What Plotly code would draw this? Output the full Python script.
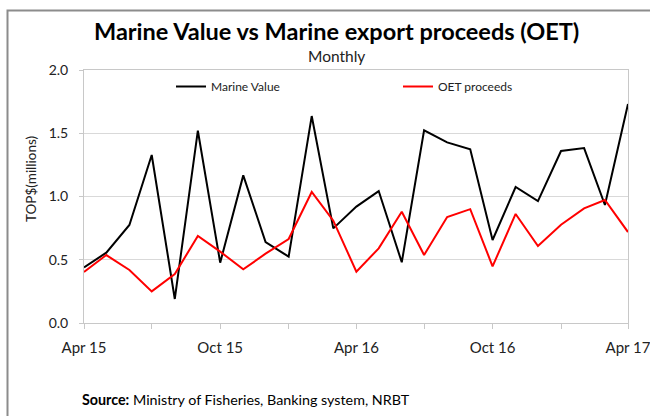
import plotly.graph_objects as go
import pandas as pd

months = pd.date_range("2015-04-01", "2017-04-01", freq="MS").strftime("%Y-%m-%d").tolist()
marine_value = [0.44, 0.556, 0.775, 1.328, 0.19, 1.52, 0.477, 1.167, 0.64, 0.524, 1.636, 0.748,
                0.92, 1.043, 0.48, 1.523, 1.428, 1.373, 0.656, 1.075, 0.964, 1.36, 1.383, 0.933, 1.731]
oet_proceeds = [0.403, 0.537, 0.419, 0.25, 0.387, 0.688, 0.564, 0.424, 0.548, 0.664, 1.036, 0.809,
                0.406, 0.59, 0.88, 0.537, 0.838, 0.9, 0.448, 0.862, 0.609, 0.777, 0.906, 0.972, 0.719]
y_ticks = [0.0, 0.5, 1.0, 1.5, 2.0]

FONT = "Lato, 'Open Sans', sans-serif"

# plot area in pixels
L, R, T, B = 84, 628, 70, 323
W, H = R - L, B - T
def px(x): return (x - L) / W
def py(y): return (B - y) / H

fig = go.Figure()
fig.add_trace(go.Scatter(x=months, y=marine_value, mode="lines", name="Marine Value",
                         line=dict(color="black", width=2)))
fig.add_trace(go.Scatter(x=months, y=oet_proceeds, mode="lines", name="OET proceeds",
                         line=dict(color="#ff0000", width=2)))

fig.update_layout(
    width=650, height=416,
    margin=dict(l=L, r=650 - R, t=T, b=416 - B, autoexpand=False),
    paper_bgcolor="white", plot_bgcolor="white",
    font=dict(family=FONT, size=12, color="#222"),
    showlegend=True,
    legend=dict(orientation="h", x=px(171), y=py(72), xanchor="left", yanchor="top",
                entrywidth=182, entrywidthmode="pixels", font=dict(size=12, color="#222"),
                bgcolor="rgba(0,0,0,0)", itemwidth=30),
    annotations=[
        dict(text="<b>Marine Value vs Marine export proceeds (OET)</b>", x=px(336), y=py(31),
             xref="paper", yref="paper", xanchor="center", yanchor="middle",
             showarrow=False, font=dict(size=23.5, color="black")),
        dict(text="Monthly", x=px(336), y=py(56), xref="paper", yref="paper",
             xanchor="center", yanchor="middle", showarrow=False, font=dict(size=15.5, color="#222")),
        dict(text="TOP$(millions)", x=px(31), y=py(179), xref="paper", yref="paper", textangle=-90,
             xanchor="center", yanchor="middle", showarrow=False, font=dict(size=13.5, color="#222")),
        dict(text="<b>Source:</b> Ministry of Fisheries, Banking system, NRBT", x=px(80), y=py(399),
             xref="paper", yref="paper", showarrow=False, xanchor="left", yanchor="middle",
             font=dict(size=14.3, color="black")),
    ],
)

fig.add_shape(type="rect", xref="paper", yref="paper", x0=px(7.5), y0=py(440), x1=px(680), y1=py(10.5),
              line=dict(color="#8c8c8c", width=2), fillcolor="rgba(0,0,0,0)", layer="below")

fig.update_xaxes(range=[months[0], months[-1]], type="date", tickformat="%b %y", dtick="M6",
                 tick0=months[0], ticks="outside", ticklen=5, tickcolor="#c8c8c8",
                 showline=True, linecolor="#c8c8c8", linewidth=1, mirror=True, showgrid=False,
                 minor=dict(dtick="M3", ticks="outside", ticklen=5, tickcolor="#c8c8c8", showgrid=False),
                 tickfont=dict(size=15, color="#222"), ticklabelstandoff=6, ticklabeloverflow="allow")
fig.update_yaxes(range=[0, 2], tickvals=y_ticks, tickformat=".1f", ticks="outside", ticklen=4,
                 tickcolor="#c8c8c8", showline=True, linecolor="#c8c8c8", linewidth=1, mirror=True,
                 showgrid=True, gridcolor="#d9d9d9", gridwidth=1, zeroline=False,
                 tickfont=dict(size=14, color="#222"), ticklabelstandoff=8)

fig.write_html("out.html", config={"displayModeBar": False},
               post_script="document.body.style.margin='0';document.body.style.overflow='hidden';")
